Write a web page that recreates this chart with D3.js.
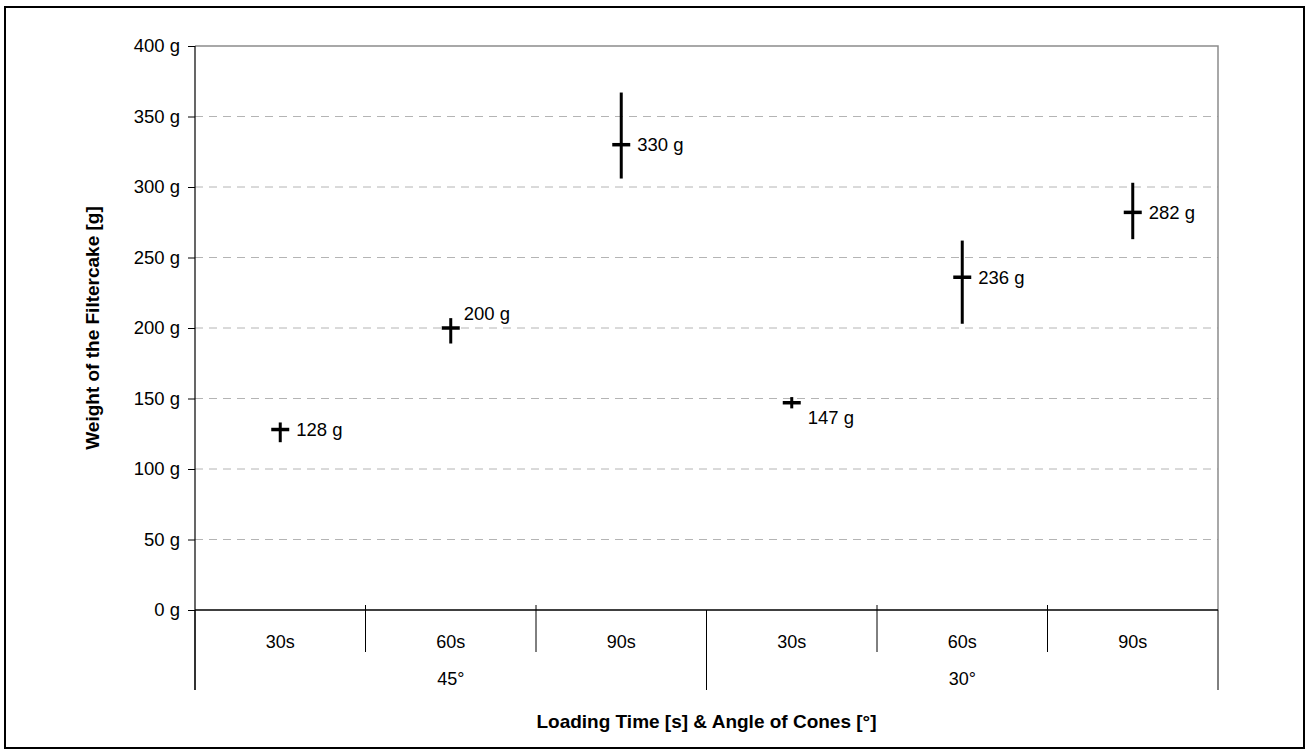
<!DOCTYPE html>
<html>
<head>
<meta charset="utf-8">
<script src="https://cdn.jsdelivr.net/npm/d3@7/dist/d3.min.js"></script>
<style>
  body { margin: 0; background: #fff; }
  svg { display: block; font-family: "Liberation Sans", Arial, sans-serif; }
</style>
</head>
<body>
<div class="chart"></div>
<script>
var width = 1307
  , height = 755
  , plotLeft = 195
  , plotRight = 1218
  , plotTop = 46
  , plotBottom = 610
  ;

// loading time per point, angle group per point
var times = ["30s", "60s", "90s", "30s", "60s", "90s"];
var angles = ["45°", "30°"];
var groupOf = [0, 0, 0, 1, 1, 1];

// mean weight and min / max of the measurements, in g
var weights = [128, 200, 330, 147, 236, 282];
var lows = [119, 189, 306, 143, 203, 263];
var highs = [133, 207, 367, 151, 262, 303];

// where Excel put each data label
var labelSide = ["right", "above", "right", "below", "right", "right"];

var yTicks = [0, 50, 100, 150, 200, 250, 300, 350, 400];

var svg = d3.select(".chart").append("svg")
  .attr("width", width)
  .attr("height", height);

svg.append("rect")
  .attr("x", 5)
  .attr("y", 7)
  .attr("width", 1299)
  .attr("height", 741)
  .attr("fill", "#fff")
  .attr("stroke", "#000")
  .attr("stroke-width", 2);

var x = d3.scaleBand()
  .domain(d3.range(times.length))
  .range([plotLeft, plotRight]);

var y = d3.scaleLinear()
  .domain([0, 400])
  .range([plotBottom, plotTop]);

// dashed grid
svg.append("g").selectAll("line")
  .data(yTicks.filter(function (t) { return t > 0 && t < 400; }))
  .enter().append("line")
    .attr("x1", plotLeft)
    .attr("x2", plotRight)
    .attr("y1", function (d) { return y(d); })
    .attr("y2", function (d) { return y(d); })
    .attr("stroke", "#b4b4b4")
    .attr("stroke-dasharray", "8,6");

// plot area border (top and right)
svg.append("path")
  .attr("d", "M" + plotLeft + "," + y(400) + "H" + plotRight + "V" + y(0))
  .attr("fill", "none")
  .attr("stroke", "#8c8c8c")
  .attr("stroke-width", 1.5);

// y axis
var yAxis = svg.append("g")
  .attr("transform", "translate(" + plotLeft + ",0)")
  .call(d3.axisLeft(y).tickValues(yTicks).tickSize(7).tickPadding(8)
    .tickFormat(function (d) { return d + " g"; }));
yAxis.select(".domain").remove();
yAxis.selectAll("line").attr("stroke", "#000");
yAxis.selectAll("text")
  .attr("font-size", 18.5)
  .attr("font-family", "Liberation Sans, Arial, sans-serif")
  .attr("fill", "#000");

svg.append("line")
  .attr("x1", plotLeft).attr("x2", plotLeft)
  .attr("y1", y(400)).attr("y2", 690)
  .attr("stroke", "#000").attr("stroke-width", 1.2);

// x axis
svg.append("line")
  .attr("x1", plotLeft).attr("x2", plotRight)
  .attr("y1", y(0)).attr("y2", y(0))
  .attr("stroke", "#000").attr("stroke-width", 1.5);

var bounds = d3.range(times.length + 1);
svg.append("g").selectAll("line")
  .data(bounds)
  .enter().append("line")
    .attr("x1", function (i) { return plotLeft + i * x.bandwidth(); })
    .attr("x2", function (i) { return plotLeft + i * x.bandwidth(); })
    .attr("y1", function (i) { return i % 3 === 0 ? y(0) : y(0) - 5; })
    .attr("y2", function (i) { return i % 3 === 0 ? 690 : 652; })
    .attr("stroke", "#000")
    .attr("stroke-width", 1);

svg.append("g").selectAll("text")
  .data(times)
  .enter().append("text")
    .attr("x", function (d, i) { return x(i) + x.bandwidth() / 2; })
    .attr("y", 648)
    .attr("text-anchor", "middle")
    .attr("font-size", 18)
    .text(function (d) { return d; });

svg.append("g").selectAll("text")
  .data(angles)
  .enter().append("text")
    .attr("x", function (d, g) {
      var idx = d3.range(times.length).filter(function (i) { return groupOf[i] === g; });
      return (x(idx[0]) + x(idx[idx.length - 1]) + x.bandwidth()) / 2;
    })
    .attr("y", 685)
    .attr("text-anchor", "middle")
    .attr("font-size", 18)
    .text(function (d) { return d; });

// axis titles
svg.append("text")
  .attr("x", (plotLeft + plotRight) / 2)
  .attr("y", 728)
  .attr("text-anchor", "middle")
  .attr("font-size", 19)
  .attr("font-weight", "bold")
  .text("Loading Time [s] & Angle of Cones [°]");

svg.append("text")
  .attr("transform", "translate(99," + (plotTop + plotBottom) / 2 + ")rotate(-90)")
  .attr("text-anchor", "middle")
  .attr("font-size", 19)
  .attr("font-weight", "bold")
  .text("Weight of the Filtercake [g]");

// points
var pts = svg.append("g").selectAll("g")
  .data(weights)
  .enter().append("g")
    .attr("transform", function (d, i) {
      return "translate(" + (x(i) + x.bandwidth() / 2) + "," + y(d) + ")";
    });

pts.append("line")
  .attr("x1", 0).attr("x2", 0)
  .attr("y1", function (d, i) { return y(highs[i]) - y(d); })
  .attr("y2", function (d, i) { return y(lows[i]) - y(d); })
  .attr("stroke", "#000")
  .attr("stroke-width", 3);

pts.append("line")
  .attr("x1", -9).attr("x2", 9)
  .attr("y1", 0).attr("y2", 0)
  .attr("stroke", "#000")
  .attr("stroke-width", 3.5);

pts.append("text")
  .attr("x", function (d, i) { return labelSide[i] === "above" ? 13 : 16; })
  .attr("y", function (d, i) { return labelSide[i] === "above" ? -14 : labelSide[i] === "below" ? 15 : 0; })
  .attr("dy", "0.35em")
  .attr("font-size", 18.5)
  .text(function (d) { return d + " g"; });
</script>
</body>
</html>
